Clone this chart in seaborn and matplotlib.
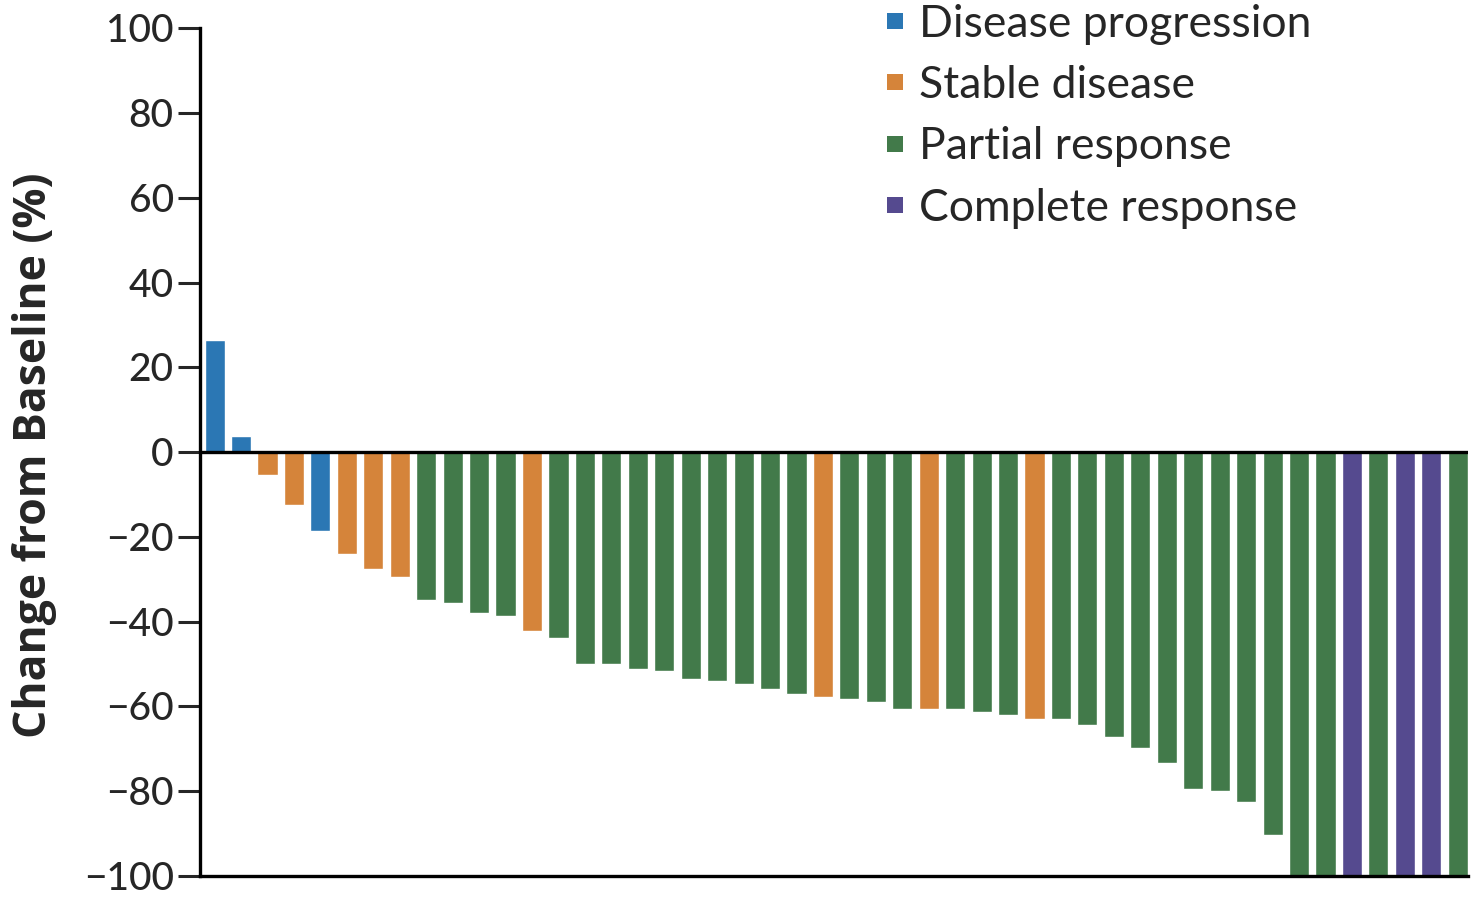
import matplotlib
matplotlib.use("Agg")
import matplotlib.pyplot as plt
from matplotlib.lines import Line2D
import seaborn as sns
import pandas as pd

# Best change in tumour size from baseline per patient, sorted waterfall order
changes = [26.5, 3.7, -5.3, -12.5, -18.6, -24.0, -27.6, -29.4,
           -34.9, -35.5, -37.9, -38.6, -42.1, -43.9, -49.9, -49.9,
           -51.1, -51.7, -53.5, -54.1, -54.7, -55.9, -57.1, -57.7,
           -58.3, -59.0, -60.7, -60.7, -60.7, -61.3, -62.0, -63.0,
           -63.0, -64.4, -67.3, -69.7, -73.4, -79.4, -80.0, -82.5,
           -90.3, -100, -100, -100, -100, -100, -100, -100]
responses = ["PD", "PD", "SD", "SD", "PD", "SD", "SD", "SD",
             "PR", "PR", "PR", "PR", "SD", "PR", "PR", "PR",
             "PR", "PR", "PR", "PR", "PR", "PR", "PR", "SD",
             "PR", "PR", "PR", "SD", "PR", "PR", "PR", "SD",
             "PR", "PR", "PR", "PR", "PR", "PR", "PR", "PR",
             "PR", "PR", "PR", "CR", "PR", "CR", "CR", "PR"]
response_labels = {"PD": "Disease progression", "SD": "Stable disease",
                   "PR": "Partial response", "CR": "Complete response"}
response_colors = {"PD": "#2b77b4", "SD": "#d5843a",
                   "PR": "#427a4a", "CR": "#554a8f"}
yticks = [100, 80, 60, 40, 20, 0, -20, -40, -60, -80, -100]

df = pd.DataFrame({"patient": range(len(changes)),
                   "change": changes,
                   "response": responses})

sns.set_style("white")
plt.rcParams["font.family"] = ["Lato", "DejaVu Sans"]

fig = plt.figure(figsize=(14.71, 9.0), dpi=100)
ax = fig.add_axes([0.136, 0.0267, 0.862, 0.942])

sns.barplot(data=df, x="patient", y="change", hue="response",
            palette=response_colors, dodge=False, width=0.76,
            saturation=1, legend=False, ax=ax)

ax.axhline(0, color="black", lw=2.4, zorder=5)
ax.set_xlim(-0.55, len(changes) - 0.61)
ax.set_ylim(-100, 100)
ax.set_yticks(yticks)
ax.set_yticklabels([str(t).replace("-", "\u2212") for t in yticks])
ax.set_xticks([])
ax.set_xlabel("")
ax.set_ylabel("Change from Baseline (%)", fontsize=32, fontweight="bold",
              family=["Open Sans", "DejaVu Sans"])
ax.yaxis.set_label_coords(-0.113, 0.496)
ax.tick_params(axis="y", direction="out", length=16, width=2.2,
               labelsize=28, pad=3, left=True)
for lbl in ax.get_yticklabels():
    lbl.set_fontweight("medium")

for side in ("top", "right"):
    ax.spines[side].set_visible(False)
for side in ("left", "bottom"):
    ax.spines[side].set_linewidth(2.4)
    ax.spines[side].set_color("black")

handles = [Line2D([0], [0], marker="s", linestyle="none", markersize=12,
                  markerfacecolor=response_colors[k], markeredgewidth=0)
           for k in ["PD", "SD", "PR", "CR"]]
labels = [response_labels[k] for k in ["PD", "SD", "PR", "CR"]]
ax.legend(handles, labels, loc="upper left", bbox_to_anchor=(0.52, 1.05),
          frameon=False, fontsize=32, handletextpad=0.15, labelspacing=0.46,
          handlelength=0.8, borderaxespad=0)

fig.savefig("out.png", dpi=100)
